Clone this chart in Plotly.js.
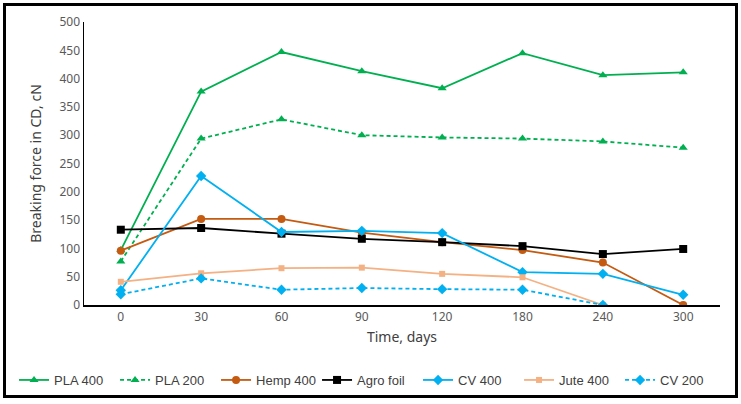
<!DOCTYPE html>
<html><head><meta charset="utf-8">
<script src="https://cdn.plot.ly/plotly-3.0.1.min.js"></script>
<style>html,body{margin:0;padding:0;background:#fff;overflow:hidden}#w{position:relative;width:741px;height:404px}#c{position:absolute;left:0;top:0;width:741px;height:404px}
#b{position:absolute;left:3px;top:3px;width:729px;height:389px;border:3px solid #000;pointer-events:none;z-index:10}</style>
</head><body><div id="w"><div id="c"></div><div id="b"></div></div>
<script>
const days = ["0","30","60","90","120","180","240","300"];
const pla400 = [97, 377, 447, 413, 383, 445, 406, 411];
const pla200 = [77, 294, 328, 300, 296, 294, 289, 278];
const hemp400 = [96, 152, 152, 128, 111, 97, 75, 0];
const agroFoil = [133, 136, 126, 117, 111, 104, 90, 99];
const cv400 = [26, 228, 129, 131, 127, 58, 55, 18];
const jute400 = [41, 56, 65, 66, 55, 49, 0, null];
const cv200 = [19, 47, 27, 30, 28, 27, 0, null];

function tr(name, y, color, symbol, dash, size){
  return {x: days, y: y, name: name, type: 'scatter', mode: 'lines+markers',
    line: {color: color, width: 1.8, dash: dash || 'solid'},
    marker: {color: color, symbol: symbol, size: size || 8},
    connectgaps: false};
}
const dsh = '4px,3px';
const data = [
  tr('PLA 400', pla400, '#00B050', 'triangle-up'),
  tr('PLA 200', pla200, '#00B050', 'triangle-up', dsh),
  tr('Hemp 400', hemp400, '#C55A11', 'circle'),
  tr('Agro foil', agroFoil, '#000000', 'square'),
  tr('CV 400', cv400, '#00B0F0', 'diamond'),
  tr('Jute 400', jute400, '#F4B183', 'square', null, 6),
  tr('CV 200', cv200, '#00B0F0', 'diamond', dsh)
];
const layout = {
  width: 741, height: 404,
  margin: {l: 84, r: 21, t: 22, b: 99, autoexpand: false},
  paper_bgcolor: '#fff', plot_bgcolor: '#fff',
  font: {family: 'Noto Sans, sans-serif', size: 12, color: '#595959'},
  showlegend: true,
  legend: {orientation: 'h', x: -0.11, xanchor: 'left', y: -0.265, yanchor: 'middle',
    bgcolor: 'rgba(0,0,0,0)',
    font: {family: 'Liberation Sans Narrow, sans-serif', size: 13, color: '#404040'},
    entrywidth: 56, entrywidthmode: 'pixels', tracegroupgap: 0},
  xaxis: {type: 'category', showgrid: false, zeroline: false, showline: true,
    linecolor: '#000', linewidth: 1.5, ticks: '', tickfont: {size: 12, color: '#595959'},
    title: {text: 'Time, days', font: {size: 14, color: '#404040'}, standoff: 8}},
  yaxis: {range: [0, 500], dtick: 50, showgrid: false, zeroline: false, showline: true,
    linecolor: '#000', linewidth: 1.5, ticks: '', ticklen: 0, tickfont: {size: 12, color: '#595959'},
    title: {text: 'Breaking force in CD, cN', font: {size: 14, color: '#404040'}, standoff: 14}}
};
Plotly.newPlot('c', data, layout, {displayModeBar: false, staticPlot: true});
</script></body></html>
